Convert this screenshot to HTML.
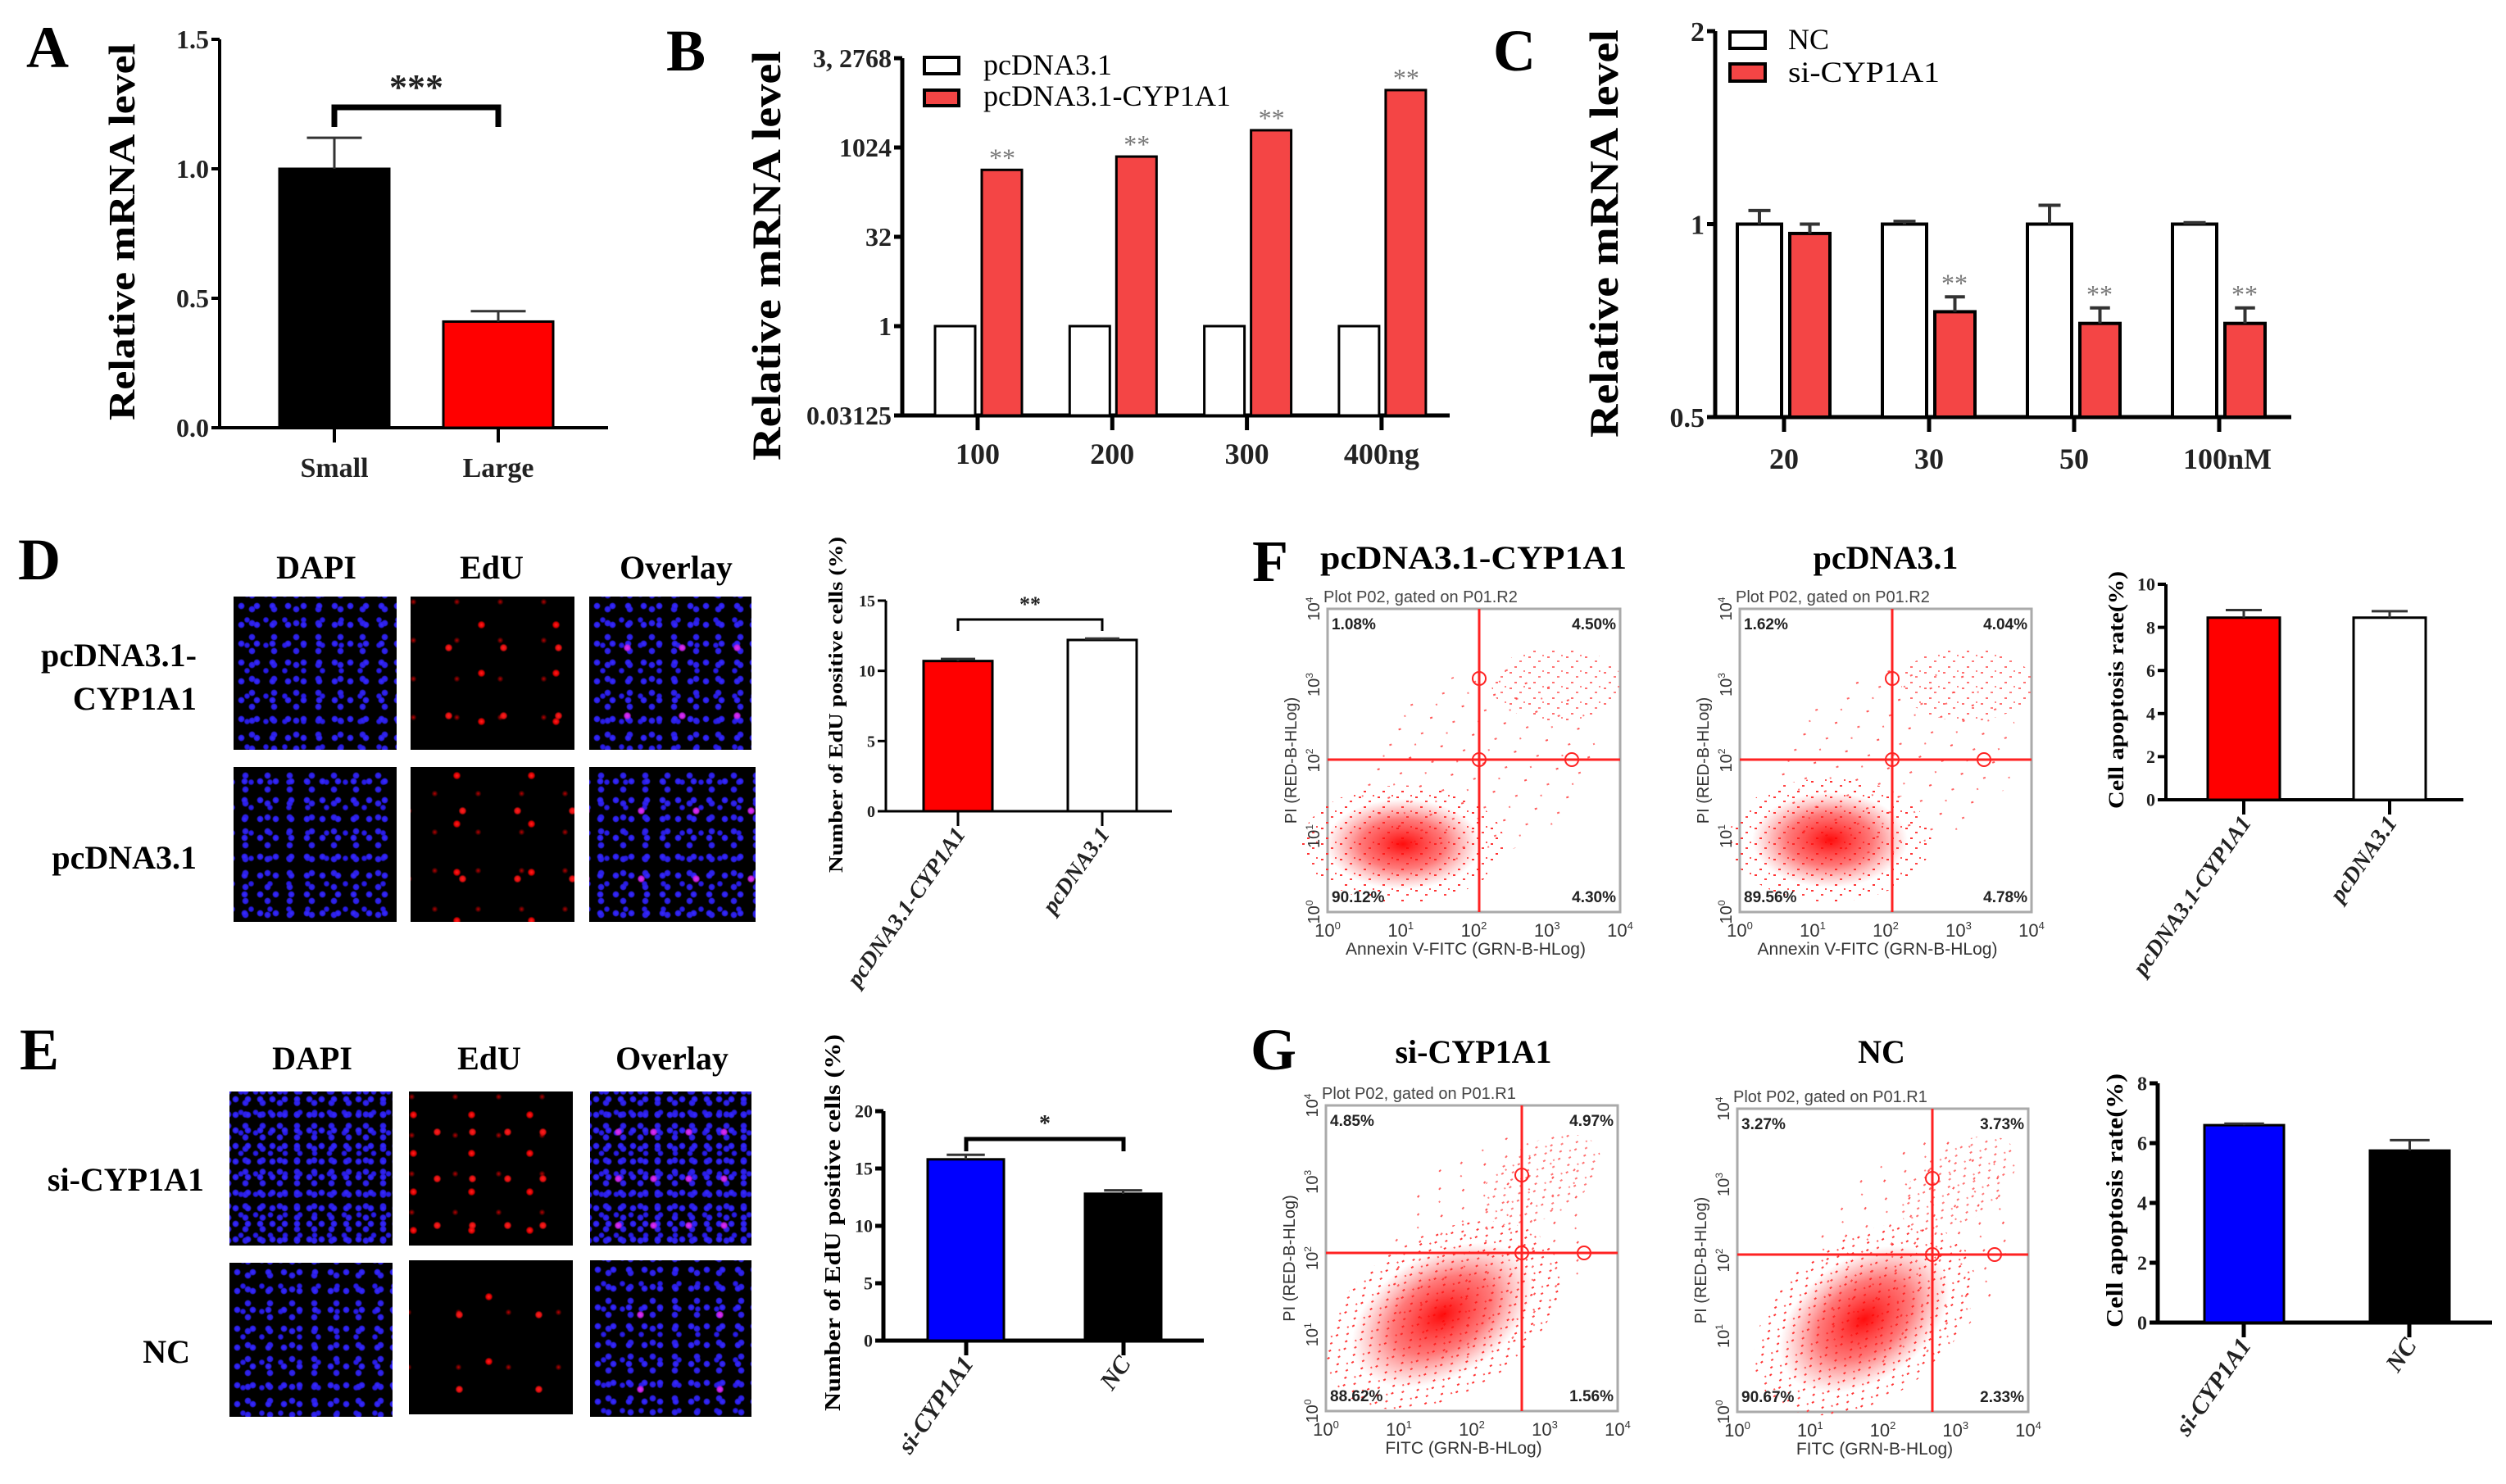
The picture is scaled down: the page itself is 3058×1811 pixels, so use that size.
<!DOCTYPE html>
<html><head><meta charset="utf-8"><style>
html,body{margin:0;padding:0;background:#fff;}
#root{position:relative;width:3058px;height:1811px;overflow:hidden;background:#fff;}
svg{position:absolute;left:0;top:0;}
.tile{position:absolute;background-color:#000;}
.dapi{background-image:radial-gradient(circle,#3a2cff 0,#2a1ee8 3px,transparent 4.5px),radial-gradient(circle,#3326f5 0,#2a1ee0 3px,transparent 4.5px),radial-gradient(circle,#2f22ef 0,#2418d8 2.5px,transparent 4px);background-size:19px 23px,27px 17px,23px 31px;background-position:0 0,9px 7px,5px 13px;}
.edu{background-image:radial-gradient(circle,#ff2020 0,#e01010 3px,transparent 5px),radial-gradient(circle,#ff2020 0,#d00 3px,transparent 5px),radial-gradient(circle,#b00 0,transparent 4px);background-size:67px 83px,91px 59px,53px 47px;background-position:13px 21px,41px 5px,30px 30px;}
.ovl{background-image:radial-gradient(circle,#e030ff 0,#c020e0 3px,transparent 5px),radial-gradient(circle,#3a2cff 0,#2a1ee8 3px,transparent 4.5px),radial-gradient(circle,#3326f5 0,#2a1ee0 3px,transparent 4.5px),radial-gradient(circle,#2f22ef 0,#2418d8 2.5px,transparent 4px);background-size:67px 83px,19px 23px,27px 17px,23px 31px;background-position:13px 21px,0 0,9px 7px,5px 13px;}
</style></head><body>
<div id="root">
<svg id="fig" width="3058" height="1811" viewBox="0 0 3058 1811" xmlns="http://www.w3.org/2000/svg" font-family="Liberation Serif, serif">
<defs>
<pattern id="dots" width="23" height="19" patternUnits="userSpaceOnUse">
<rect x="2" y="3" width="3" height="2" fill="#f33"/><rect x="14" y="8" width="3" height="2" fill="#f44"/><rect x="8" y="15" width="3" height="2" fill="#f33"/><rect x="19" y="1" width="2" height="2" fill="#f55"/>
</pattern>
<pattern id="dots2" width="41" height="37" patternUnits="userSpaceOnUse">
<rect x="5" y="7" width="3" height="2" fill="#f55"/><rect x="29" y="21" width="3" height="2" fill="#f66"/><rect x="17" y="31" width="2" height="2" fill="#f77"/>
</pattern>
<radialGradient id="core"><stop offset="0" stop-color="#f00" stop-opacity="0.95"/><stop offset="0.55" stop-color="#f22" stop-opacity="0.6"/><stop offset="1" stop-color="#f44" stop-opacity="0"/></radialGradient>
</defs>

<g font-weight="bold" font-size="72" fill="#000">
<text x="32" y="82">A</text>
<text x="813" y="86">B</text>
<text x="1822" y="86">C</text>
<text x="22" y="707">D</text>
<text x="24" y="1305">E</text>
<text x="1528" y="709">F</text>
<text x="1526" y="1305">G</text>
</g>

<g font-weight="bold" fill="#000">
<text transform="translate(164,283) rotate(-90)" text-anchor="middle" font-size="46" textLength="460" lengthAdjust="spacingAndGlyphs">Relative mRNA level</text>
<text transform="translate(952,312) rotate(-90)" text-anchor="middle" font-size="50" textLength="500" lengthAdjust="spacingAndGlyphs">Relative mRNA level</text>
<text transform="translate(1974,285) rotate(-90)" text-anchor="middle" font-size="50" textLength="498" lengthAdjust="spacingAndGlyphs">Relative mRNA level</text>
<text transform="translate(1028,860) rotate(-90)" text-anchor="middle" font-size="24" textLength="410" lengthAdjust="spacingAndGlyphs">Number of EdU positive cells (%)</text>
<text transform="translate(1025,1492) rotate(-90)" text-anchor="middle" font-size="27" textLength="460" lengthAdjust="spacingAndGlyphs">Number of EdU positive cells (%)</text>
<text transform="translate(2591,842) rotate(-90)" text-anchor="middle" font-size="26" textLength="290" lengthAdjust="spacingAndGlyphs">Cell apoptosis rate(%)</text>
<text transform="translate(2590,1465) rotate(-90)" text-anchor="middle" font-size="28" textLength="310" lengthAdjust="spacingAndGlyphs">Cell apoptosis rate(%)</text>
</g>

<g font-size="36" fill="#000">
<rect x="1128" y="70" width="42" height="20" fill="#fff" stroke="#000" stroke-width="4"/>
<text x="1200" y="91">pcDNA3.1</text>
<rect x="1128" y="110" width="42" height="19" fill="#f44545" stroke="#000" stroke-width="4"/>
<text x="1200" y="129" textLength="302" lengthAdjust="spacingAndGlyphs">pcDNA3.1-CYP1A1</text>
<rect x="2111" y="39" width="43" height="20" fill="#fff" stroke="#000" stroke-width="4"/>
<text x="2182" y="60">NC</text>
<rect x="2111" y="78" width="43" height="21" fill="#f44545" stroke="#000" stroke-width="4"/>
<text x="2182" y="100" textLength="185" lengthAdjust="spacingAndGlyphs">si-CYP1A1</text>
</g>

<g font-weight="bold" font-size="40" fill="#000" text-anchor="middle">
<text x="386" y="706">DAPI</text>
<text x="600" y="706">EdU</text>
<text x="825" y="706">Overlay</text>
<text x="381" y="1305">DAPI</text>
<text x="597" y="1305">EdU</text>
<text x="820" y="1305">Overlay</text>
<text x="1798" y="694" textLength="374" lengthAdjust="spacingAndGlyphs">pcDNA3.1-CYP1A1</text>
<text x="2301" y="694">pcDNA3.1</text>
<text x="1798" y="1297">si-CYP1A1</text>
<text x="2296" y="1297">NC</text>
</g>
<g font-weight="bold" font-size="40" fill="#000" text-anchor="end">
<text x="240" y="813">pcDNA3.1-</text>
<text x="240" y="866">CYP1A1</text>
<text x="240" y="1060">pcDNA3.1</text>
<text x="249" y="1453">si-CYP1A1</text>
<text x="232" y="1663">NC</text>
</g>
<g id="charts"></g>
<g id="flows" font-family="Liberation Sans, sans-serif"></g>
</svg>

<div class="tile dapi" style="left:285px;top:728px;width:199px;height:187px"></div>
<div class="tile edu" style="left:501px;top:728px;width:200px;height:187px"></div>
<div class="tile ovl" style="left:719px;top:728px;width:198px;height:187px"></div>
<div class="tile dapi" style="left:285px;top:936px;width:199px;height:189px;background-position:4px 6px,1px 2px,10px 3px"></div>
<div class="tile edu" style="left:501px;top:936px;width:200px;height:189px;background-position:30px 12px,11px 40px,3px 9px"></div>
<div class="tile ovl" style="left:719px;top:936px;width:203px;height:189px;background-position:30px 12px,4px 6px,1px 2px,10px 3px"></div>
<div class="tile dapi" style="left:280px;top:1332px;width:199px;height:188px;background-size:15px 19px,21px 14px,18px 25px"></div>
<div class="tile edu" style="left:499px;top:1332px;width:200px;height:188px;background-size:43px 57px,71px 47px,53px 47px"></div>
<div class="tile ovl" style="left:720px;top:1332px;width:197px;height:188px;background-size:43px 57px,15px 19px,21px 14px,18px 25px"></div>
<div class="tile dapi" style="left:280px;top:1541px;width:199px;height:188px"></div>
<div class="tile edu" style="left:499px;top:1538px;width:200px;height:188px;background-size:97px 91px,113px 79px,61px 67px"></div>
<div class="tile ovl" style="left:720px;top:1538px;width:197px;height:191px;background-size:97px 91px,19px 23px,27px 17px,23px 31px"></div>
</div>

<script>
const aCats = ["Small", "Large"];
const aVals = [1.0, 0.41];
const aErr = [0.12, 0.04];
const aTicks = [0, 0.5, 1.0, 1.5];
const aTickLabels = ["0.0", "0.5", "1.0", "1.5"];

const bCats = ["100", "200", "300", "400ng"];
const bCtrl = [1, 1, 1, 1];
const bOver = [430, 720, 2000, 9500];
const bTicks = [0.03125, 1, 32, 1024, 32768];
const bTickLabels = ["0.03125", "1", "32", "1024", "3, 2768"];

const cCats = ["20", "30", "50", "100nM"];
const cNC = [1, 1, 1, 1];
const cNCErr = [0.05, 0.01, 0.07, 0.005];
const cSi = [0.967, 0.73, 0.70, 0.70];
const cSiErr = [0.033, 0.04, 0.04, 0.04];
const cTicks = [0.5, 1, 2];
const cTickLabels = ["0.5", "1", "2"];

const dCats = ["pcDNA3.1-CYP1A1", "pcDNA3.1"];
const dVals = [10.7, 12.2];
const dErr = [0.15, 0.1];
const dTicks = [0, 5, 10, 15];

const eCats = ["si-CYP1A1", "NC"];
const eVals = [15.8, 12.8];
const eErr = [0.4, 0.3];
const eTicks = [0, 5, 10, 15, 20];

const fCats = ["pcDNA3.1-CYP1A1", "pcDNA3.1"];
const fVals = [8.45, 8.45];
const fErr = [0.35, 0.3];
const fTicks = [0, 2, 4, 6, 8, 10];

const gCats = ["si-CYP1A1", "NC"];
const gVals = [6.6, 5.75];
const gErr = [0.05, 0.35];
const gTicks = [0, 2, 4, 6, 8];

const NS = "http://www.w3.org/2000/svg";
const charts = document.getElementById("charts");
function mk(tag, attrs, parent) {
  const e = document.createElementNS(NS, tag);
  for (const k in attrs) e.setAttribute(k, attrs[k]);
  (parent || charts).appendChild(e);
  return e;
}
function lin(d0, d1, p0, p1) { return v => p0 + (v - d0) / (d1 - d0) * (p1 - p0); }
function lg2(d0, d1, p0, p1) { return v => p0 + (Math.log2(v) - Math.log2(d0)) / (Math.log2(d1) - Math.log2(d0)) * (p1 - p0); }

function drawBar(x0, x1, v, err, y, base, fill, name, sw) {
  const top = y(v);
  const r = mk("rect", { x: x0, y: Math.min(top, base), width: x1 - x0, height: Math.abs(base - top), fill: fill, stroke: "#000", "stroke-width": sw });
  
  
  if (err > 0) {
    const cx = (x0 + x1) / 2, et = y(v + err);
    const l = mk("path", { d: `M${cx},${top} V${et} M${cx - (x1 - x0) / 4},${et} H${cx + (x1 - x0) / 4}`, stroke: "#333", "stroke-width": sw, fill: "none" });
    
    
  }
  return top;
}
function axes(ax, yTop, yBot, xEnd, ticks, labels, y, fs, sw, pfx, tickXs) {
  const a = mk("path", { d: `M${ax},${yTop} V${yBot} M${ax - 4},${yBot} H${xEnd}`, stroke: "#000", "stroke-width": sw, fill: "none" });
  
  
  ticks.forEach((t, i) => {
    const ty = y(t);
    const tk = mk("line", { x1: ax - 10, x2: ax, y1: ty, y2: ty, stroke: "#000", "stroke-width": sw });
    
    
    const tl = mk("text", { x: ax - 13, y: ty + fs * 0.35, "text-anchor": "end", "font-size": fs, "font-weight": "bold", fill: "#222" });
    tl.textContent = labels[i];
    
    
  });
  tickXs.forEach(tx => {
    const t = mk("line", { x1: tx, x2: tx, y1: yBot, y2: yBot + 18, stroke: "#000", "stroke-width": sw });
    
    
  });
}
function xLabel(x, y, txt, fs, pfx) {
  const t = mk("text", { x: x, y: y, "text-anchor": "middle", "font-size": fs, "font-weight": "bold", fill: "#222" });
  t.textContent = txt;
  
  
}
function rotLabel(x, y, txt, fs, pfx) {
  const t = mk("text", { transform: `translate(${x},${y}) rotate(-55)`, "text-anchor": "end", "font-size": fs, "font-weight": "bold", "font-style": "italic", fill: "#222" });
  t.textContent = txt;
  
  
}
function sig(x0, x1, yb, yd, txt, fs, pfx, sw) {
  const p = mk("path", { d: `M${x0},${yd} V${yb} H${x1} V${yd}`, stroke: "#000", "stroke-width": sw, fill: "none" });
  
  
  const t = mk("text", { x: (x0 + x1) / 2, y: yb - 10, "text-anchor": "middle", "font-size": fs, "font-weight": "bold", fill: "#222" });
  t.textContent = txt;
  
  
}
function star(x, y, pfx) {
  const t = mk("text", { x: x, y: y, "text-anchor": "middle", "font-size": 32, fill: "#777" });
  t.textContent = "**";
  
  
}

(function () {
  const y = lin(0, 1.5, 522, 48);
  const cx = [408, 608];
  axes(268, 48, 522, 742, aTicks, aTickLabels, y, 32, 4, "a", cx);
  const fills = ["#000", "#ff0000"];
  aCats.forEach((c, i) => {
    drawBar(cx[i] - 67, cx[i] + 67, aVals[i], aErr[i], y, 522, fills[i], "a-bar-" + c.toLowerCase(), 3);
    xLabel(cx[i], 582, c, 34, "a");
  });
  sig(cx[0], cx[1], 131, 155, "***", 44, "a", 7);
})();

(function () {
  const y = lg2(0.03125, 32768, 507, 71);
  const g = bCats.map((c, i) => 1193 + i * 164.3);
  axes(1101, 71, 507, 1769, bTicks, bTickLabels, y, 32, 5, "b", g);
  bCats.forEach((c, i) => {
    drawBar(g[i] - 52, g[i] - 3, bCtrl[i], 0, y, 507, "#fff", "b-bar-pcdna-" + c, 3);
    const top = drawBar(g[i] + 5, g[i] + 54, bOver[i], 0, y, 507, "#f44545", "b-bar-cyp1a1-" + c, 3);
    star(g[i] + 30, top - 4, "b");
    xLabel(g[i], 566, c, 36, "b");
  });
})();

(function () {
  const y = lg2(0.5, 2, 509, 38);
  const g = cCats.map((c, i) => 2177 + i * 177);
  axes(2093, 38, 509, 2796, cTicks, cTickLabels, y, 34, 5, "c", g);
  cCats.forEach((c, i) => {
    drawBar(g[i] - 57, g[i] - 3, cNC[i], cNCErr[i], y, 509, "#fff", "c-bar-nc-" + c, 4);
    drawBar(g[i] + 7, g[i] + 56, cSi[i], cSiErr[i], y, 509, "#f44545", "c-bar-si-" + c, 4);
    if (i > 0) star(g[i] + 31, y(cSi[i] + cSiErr[i]) - 6, "c");
    xLabel(g[i] + (i === 3 ? 10 : 0), 572, c, 36, "c");
  });
})();

(function () {
  const y = lin(0, 15, 990, 733);
  const cx = [1169, 1345];
  axes(1081, 733, 990, 1430, dTicks, dTicks.map(String), y, 20, 3, "d", cx);
  const fills = ["#ff0000", "#fff"];
  dCats.forEach((c, i) => {
    drawBar(cx[i] - 42, cx[i] + 42, dVals[i], dErr[i], y, 990, fills[i], "d-bar-" + i, 3);
    rotLabel(cx[i] + 10, 1018, c, 28, "d");
  });
  sig(cx[0], cx[1], 756, 770, "**", 26, "d", 3);
})();

(function () {
  const y = lin(0, 20, 1636, 1356);
  const cx = [1179, 1371];
  axes(1078, 1356, 1636, 1469, eTicks, eTicks.map(String), y, 22, 5, "e", cx);
  const fills = ["#0000ff", "#000"];
  eCats.forEach((c, i) => {
    drawBar(cx[i] - 47, cx[i] + 46, eVals[i], eErr[i], y, 1636, fills[i], "e-bar-" + c.toLowerCase(), 3);
    rotLabel(cx[i] + 10, 1664, c, 30, "e");
  });
  sig(cx[0], cx[1], 1390, 1405, "*", 28, "e", 5);
})();

(function () {
  const y = lin(0, 10, 976, 713);
  const cx = [2738, 2916];
  axes(2643, 713, 976, 3006, fTicks, fTicks.map(String), y, 22, 4, "f", cx);
  const fills = ["#ff0000", "#fff"];
  fCats.forEach((c, i) => {
    drawBar(cx[i] - 44, cx[i] + 44, fVals[i], fErr[i], y, 976, fills[i], "f-bar-" + i, 3);
    rotLabel(cx[i] + 10, 1004, c, 28, "f");
  });
})();

(function () {
  const y = lin(0, 8, 1614, 1322);
  const cx = [2738, 2940];
  axes(2633, 1322, 1614, 3041, gTicks, gTicks.map(String), y, 24, 5, "g", cx);
  const fills = ["#0000ff", "#000"];
  gCats.forEach((c, i) => {
    drawBar(cx[i] - 48, cx[i] + 49, gVals[i], gErr[i], y, 1614, fills[i], "g-bar-" + c.toLowerCase(), 3);
    rotLabel(cx[i] + 10, 1642, c, 30, "g");
  });
})();

const flows = document.getElementById("flows");
function fm(tag, attrs) {
  const e = document.createElementNS(NS, tag);
  for (const k in attrs) e.setAttribute(k, attrs[k]);
  flows.appendChild(e);
  return e;
}
const flowDefs = [
  { id: "f-cyp1a1", x0: 1620, y0: 743, x1: 1977, y1: 1113, vx: 1805, hy: 927, ro: 113, head: "Plot P02, gated on P01.R2", xl: "Annexin V-FITC (GRN-B-HLog)", q: ["1.08%", "4.50%", "90.12%", "4.30%"], cx: 1712, cy: 1030, rx: 95, ry: 55, ux: 1900, uy: 835, rot: 0 },
  { id: "f-pcdna", x0: 2123, y0: 743, x1: 2479, y1: 1113, vx: 2309, hy: 927, ro: 112, head: "Plot P02, gated on P01.R2", xl: "Annexin V-FITC (GRN-B-HLog)", q: ["1.62%", "4.04%", "89.56%", "4.78%"], cx: 2233, cy: 1025, rx: 95, ry: 58, ux: 2400, uy: 835, rot: 0 },
  { id: "g-si", x0: 1618, y0: 1349, x1: 1974, y1: 1722, vx: 1857, hy: 1529, ro: 76, head: "Plot P02, gated on P01.R1", xl: "FITC (GRN-B-HLog)", q: ["4.85%", "4.97%", "88.62%", "1.56%"], cx: 1760, cy: 1605, rx: 120, ry: 75, ux: 1880, uy: 1440, rot: -30 },
  { id: "g-nc", x0: 2120, y0: 1353, x1: 2475, y1: 1723, vx: 2358, hy: 1531, ro: 76, head: "Plot P02, gated on P01.R1", xl: "FITC (GRN-B-HLog)", q: ["3.27%", "3.73%", "90.67%", "2.33%"], cx: 2275, cy: 1610, rx: 115, ry: 75, ux: 2390, uy: 1445, rot: -35 }
];
flowDefs.forEach(p => {
  const w = p.x1 - p.x0, h = p.y1 - p.y0;
  const box = fm("rect", { x: p.x0, y: p.y0, width: w, height: h, fill: "#fff", stroke: "#aaa", "stroke-width": 3 });
  
  
  const diff = fm("ellipse", { cx: (p.cx + p.ux) / 2, cy: (p.cy + p.uy) / 2, rx: w * 0.42, ry: h * 0.3, fill: "url(#dots2)", transform: `rotate(${p.rot - 20},${(p.cx + p.ux) / 2},${(p.cy + p.uy) / 2})` });
  
  
  const up = fm("ellipse", { cx: p.ux, cy: p.uy, rx: 80, ry: 45, fill: "url(#dots)", opacity: 0.7, transform: `rotate(${p.rot},${p.ux},${p.uy})` });
  
  
  const halo = fm("ellipse", { cx: p.cx, cy: p.cy, rx: p.rx * 1.3, ry: p.ry * 1.3, fill: "url(#dots)", transform: `rotate(${p.rot},${p.cx},${p.cy})` });
  
  
  const core = fm("ellipse", { cx: p.cx, cy: p.cy, rx: p.rx, ry: p.ry, fill: "url(#core)", transform: `rotate(${p.rot},${p.cx},${p.cy})` });
  
  
  const ql = fm("path", { d: `M${p.vx},${p.y0} V${p.y1} M${p.x0},${p.hy} H${p.x1}`, stroke: "#f22", "stroke-width": 3, fill: "none" });
  
  
  [[p.vx, p.y0 + 85], [p.vx, p.hy], [p.vx + p.ro, p.hy]].forEach(c => {
    const o = fm("circle", { cx: c[0], cy: c[1], r: 8, fill: "none", stroke: "#f22", "stroke-width": 2 });
    
    
  });
  const hd = fm("text", { x: p.x0 - 5, y: p.y0 - 8, "font-size": 20, fill: "#444" });
  hd.textContent = p.head;
  
  
  const pos = [[p.x0 + 5, p.y0 + 25, "start"], [p.x1 - 5, p.y0 + 25, "end"], [p.x0 + 5, p.y1 - 12, "start"], [p.x1 - 5, p.y1 - 12, "end"]];
  p.q.forEach((s, i) => {
    const t = fm("text", { x: pos[i][0], y: pos[i][1], "text-anchor": pos[i][2], "font-size": 19, "font-weight": "bold", fill: "#222" });
    t.textContent = s;
    
    
  });
  for (let k = 0; k <= 4; k++) {
    const tx = p.x0 + k * w / 4;
    const t = fm("text", { x: tx, y: p.y1 + 30, "text-anchor": "middle", "font-size": 22, fill: "#333" });
    t.textContent = "10";
    const s = document.createElementNS(NS, "tspan");
    s.setAttribute("dy", "-9"); s.setAttribute("font-size", "13"); s.textContent = String(k);
    t.appendChild(s);
    
    
    const ty = p.y1 - k * h / 4;
    const t2 = fm("text", { transform: `translate(${p.x0 - 10},${ty}) rotate(-90)`, "text-anchor": "middle", "font-size": 20, fill: "#333" });
    t2.textContent = "10";
    const s2 = document.createElementNS(NS, "tspan");
    s2.setAttribute("dy", "-8"); s2.setAttribute("font-size", "12"); s2.textContent = String(k);
    t2.appendChild(s2);
    
    
  }
  const xl = fm("text", { x: (p.x0 + p.x1) / 2 - 10, y: p.y1 + 52, "text-anchor": "middle", "font-size": 21, fill: "#333" });
  xl.textContent = p.xl;
  
  
  const yl = fm("text", { transform: `translate(${p.x0 - 38},${(p.y0 + p.y1) / 2}) rotate(-90)`, "text-anchor": "middle", "font-size": 20, fill: "#333" });
  yl.textContent = "PI (RED-B-HLog)";
  
  
});
</script>
</body></html>
